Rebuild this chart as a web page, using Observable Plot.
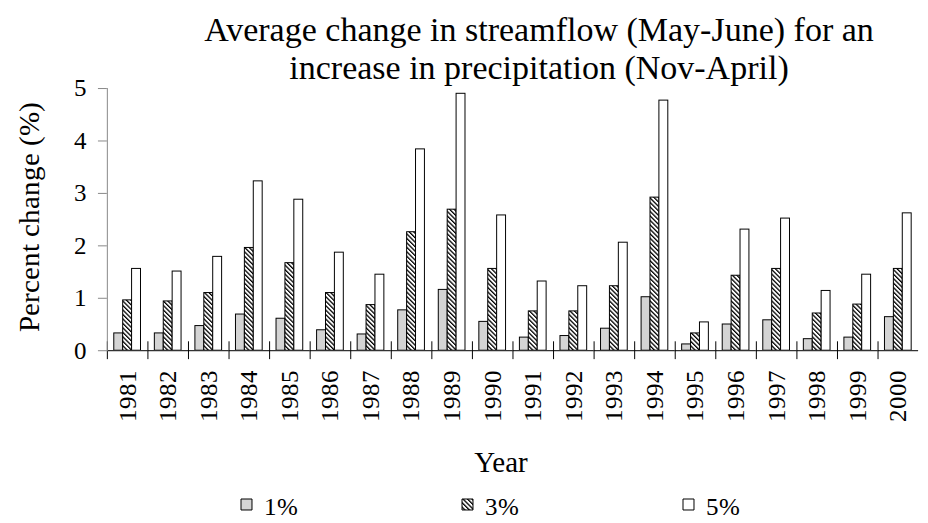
<!DOCTYPE html>
<html>
<head>
<meta charset="utf-8">
<script src="https://cdn.jsdelivr.net/npm/d3@7"></script>
<script src="https://cdn.jsdelivr.net/npm/@observablehq/plot@0.6"></script>
<style>
  @font-face { font-family: "ChartSerif"; src: local("Liberation Serif"), local("LiberationSerif"), local("Liberation Serif Regular"), local("LiberationSerif-Regular"); }
  html, body { margin: 0; padding: 0; background: white; overflow: hidden; }
  #wrap { position: relative; width: 928px; height: 523px; overflow: hidden; font-family: "Liberation Serif", "Times New Roman", serif; color: black; }
  #chart { position: absolute; left: 0; top: 0; }
  #title { position: absolute; left: 150px; top: 11px; width: 778px; text-align: center; font-size: 34px; line-height: 38px; white-space: nowrap; }
  #xlabel { position: absolute; left: 401px; top: 448px; width: 200px; text-align: center; font-size: 29px; line-height: 29px; }
  #legend { position: absolute; left: 0; top: 490px; }
  svg text { font-family: "ChartSerif", "Liberation Serif", "Times New Roman", serif !important; }
</style>
</head>
<body>
<div id="wrap">
  <div id="chart"></div>
  <div id="title">Average change in streamflow (May-June) for an<br>increase in precipitation (Nov-April)</div>
  <div id="xlabel">Year</div>
  <div id="legend"></div>
</div>
<script>
const years = ["1981","1982","1983","1984","1985","1986","1987","1988","1989","1990",
               "1991","1992","1993","1994","1995","1996","1997","1998","1999","2000"];
const seriesNames = ["1%", "3%", "5%"];
const pct1 = [0.33,0.33,0.47,0.69,0.61,0.39,0.31,0.77,1.16,0.55,0.25,0.28,0.42,1.02,0.12,0.50,0.58,0.22,0.25,0.64];
const pct3 = [0.96,0.94,1.10,1.96,1.67,1.10,0.87,2.26,2.69,1.56,0.75,0.75,1.23,2.92,0.33,1.43,1.56,0.71,0.88,1.56];
const pct5 = [1.56,1.51,1.79,3.23,2.88,1.87,1.45,3.84,4.90,2.58,1.32,1.23,2.06,4.77,0.54,2.31,2.52,1.14,1.45,2.62];
const yTicks = [0, 1, 2, 3, 4, 5];
const yLabel = "Percent change (%)";

const seriesValues = [pct1, pct3, pct5];
const data = years.flatMap((year, i) =>
  seriesNames.map((s, j) => ({year, series: s, value: seriesValues[j][i]})));

const fills = ["#d4d4d4", "url(#hatch)", "white"];
const serifFont = "ChartSerif, Liberation Serif, serif";

const plot = Plot.plot({
  width: 938,
  height: 445,
  marginLeft: 99,
  marginRight: 2,
  marginTop: 89,
  marginBottom: 91,
  style: {fontFamily: serifFont, background: "transparent", overflow: "visible", color: "black"},
  fx: {domain: years, padding: 0, label: null},
  x: {domain: seriesNames, paddingInner: 0, paddingOuter: 0.643, axis: null},
  y: {domain: [0, 5], label: null},
  color: {domain: seriesNames, range: fills},
  marks: [
    Plot.barY(data, {fx: "year", x: "series", y: "value", fill: "series", stroke: "black", strokeWidth: 1}),
    Plot.ruleY([0], {stroke: "#333", strokeWidth: 1.2}),
    // category boundary ticks crossing the x axis line
    Plot.frame({anchor: "left", insetTop: 256, insetBottom: -8, stroke: "black", strokeWidth: 1}),
    // y axis line
    Plot.frame({anchor: "left", facetAnchor: "left", stroke: "#888"}),
    Plot.axisY({ticks: yTicks, tickFormat: d => String(d), tickSize: 9, tickPadding: 12, fontSize: 25,
                fontFamily: serifFont, label: null, stroke: "#888", facetAnchor: "left"}),
    Plot.axisFx({anchor: "bottom", tickSize: 0, tickRotate: -90, tickPadding: 19, fontSize: 25,
                 fontFamily: serifFont, label: null}),
    Plot.text([yLabel], {text: d => d, frameAnchor: "left", textAnchor: "middle", rotate: -90, dx: -78, dy: -3,
                         fontSize: 29, fontFamily: serifFont, facetAnchor: "left", fill: "black"})
  ]
});

d3.select(plot).insert("defs", ":first-child").html(
  '<pattern id="hatch" patternUnits="userSpaceOnUse" width="3.2" height="3.2" patternTransform="rotate(-45)">' +
  '<rect width="3.2" height="3.2" fill="white"/><rect width="1.3" height="3.2" fill="black"/></pattern>');
document.getElementById("chart").appendChild(plot);

// legend drawn with Plot: square swatches and labels spread across the width
const legend = Plot.plot({
  width: 928,
  height: 28,
  margin: 0,
  style: {fontFamily: serifFont, background: "transparent", overflow: "visible", color: "black"},
  x: {type: "point", domain: seriesNames, range: [135.5, 798.5], axis: null},
  color: {domain: seriesNames, range: fills},
  marks: [
    Plot.dot(seriesNames, {x: d => d, frameAnchor: "middle", symbol: "square", r: 6.2,
                           fill: d => d, stroke: "black", strokeWidth: 1}),
    Plot.text(seriesNames, {x: d => d, text: d => d, frameAnchor: "middle", textAnchor: "start", dx: 17.5, dy: 2,
                            fontSize: 25, fontFamily: serifFont, fill: "black"})
  ]
});
document.getElementById("legend").appendChild(legend);
</script>
</body>
</html>
